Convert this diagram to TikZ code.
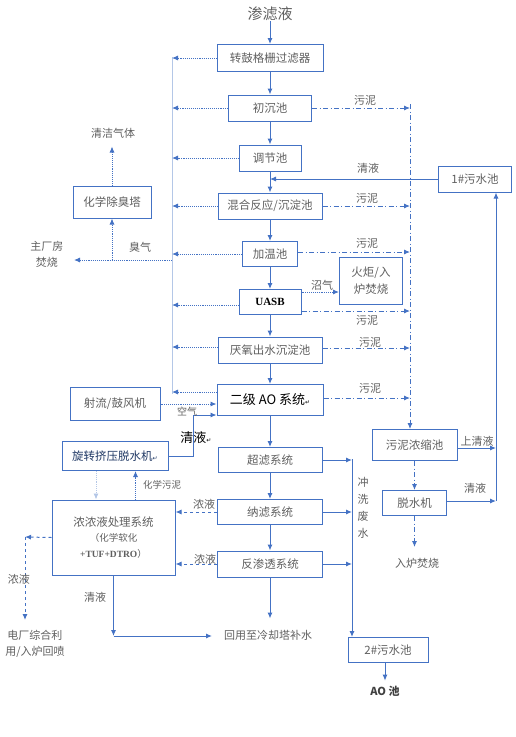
\documentclass[tikz,border=0pt]{standalone}
\usepackage{fontspec}
\setmainfont{Liberation Serif}
\newfontfamily\cjk{Noto Sans CJK SC}
\newfontfamily\symfont{DejaVu Sans}
\usepackage{tikz}
\usetikzlibrary{arrows.meta,positioning}
\usepackage{xcolor}
\definecolor{boxblue}{RGB}{68,114,196}
\definecolor{paleblue}{RGB}{180,199,231}
\definecolor{txtgray}{RGB}{95,95,95}
\definecolor{inkblue}{RGB}{31,56,100}
\newcommand\retmark{{\symfont\fontsize{6}{6}\selectfont ↵}}

\begin{document}
\begin{tikzpicture}[x=1pt,y=-1pt,>={Latex[length=6pt,width=5pt]},
  unit/.style={draw=boxblue,line width=1pt,inner sep=0pt,text=txtgray,
    font=\cjk\fontsize{11.5}{13}\selectfont},
  lbl/.style={inner sep=0pt,text=txtgray,font=\cjk\fontsize{11}{13}\selectfont},
  flow/.style={->,draw=boxblue,line width=1pt},
  gas/.style={->,draw=boxblue,line width=0.9pt,densely dotted},
  sludge/.style={->,draw=boxblue,line width=0.9pt,dash pattern=on 5pt off 2.5pt on 1pt off 2.5pt},
  brine/.style={->,draw=boxblue,line width=1pt,dashed}]
  \useasboundingbox (0,0) rectangle (515,737);

  % main line
  \node (src) [lbl,font=\cjk\fontsize{15}{17}\selectfont] at (270,14) {渗滤液};
  \node (grid) [unit,minimum width=106pt,minimum height=27pt] at (270,58) {转鼓格栅过滤器};
  \node (prim) [unit,minimum width=83pt,minimum height=26pt] at (270,108) {初沉池};
  \node (adj) [unit,minimum width=62pt,minimum height=26pt] at (270,158) {调节池};
  \node (mix) [unit,minimum width=104pt,minimum height=26pt] at (270,206) {混合反应/沉淀池};
  \node (heat) [unit,minimum width=55pt,minimum height=25pt] at (270,254) {加温池};
  \node (uasb) [unit,minimum width=62pt,minimum height=25pt,text=black,
    font=\bfseries\fontsize{11}{12}\selectfont] at (270,302) {UASB};
  \node (anox) [unit,minimum width=104pt,minimum height=26pt] at (270,350) {厌氧出水沉淀池};
  \node (ao) [unit,minimum width=106pt,minimum height=31pt,text=black,
    font=\cjk\fontsize{13}{15}\selectfont] at (270,400) {二级 AO 系统\retmark};
  \node (uf) [unit,minimum width=104pt,minimum height=25pt] at (270,460) {超滤系统};
  \node (nf) [unit,minimum width=105pt,minimum height=25pt] at (270,512) {纳滤系统};
  \node (ro) [unit,minimum width=105pt,minimum height=26pt] at (270,564) {反渗透系统};
  \node (reuse) [lbl] at (268,635) {回用至冷却塔补水};

  \draw[flow] (src) -- (grid);
  \draw[flow] (grid) -- (prim);
  \draw[flow] (prim) -- (adj);
  \draw[flow] (adj) -- (mix);
  \draw[flow] (mix) -- (heat);
  \draw[flow] (heat) -- (uasb);
  \draw[flow] (uasb) -- (anox);
  \draw[flow] (anox) -- (ao);
  \draw[flow] (ao) -- (uf);
  \draw[flow] (uf) -- (nf);
  \draw[flow] (nf) -- (ro);
  \draw[flow] (ro.south) -- ++(0,41);

  % sludge side
  \node (flare) [unit,minimum width=63pt,minimum height=47pt,align=center,
    font=\cjk\fontsize{11.5}{17}\selectfont] at (371,281) {火炬/入\\炉焚烧};
  \node (pool1) [unit,minimum width=73pt,minimum height=26pt] at (475,179) {1\#污水池};
  \node (thick) [unit,minimum width=85pt,minimum height=31pt] at (414.5,445) {污泥浓缩池};
  \node (dewat) [unit,minimum width=64pt,minimum height=25pt] at (414.5,503) {脱水机};
  \node (burn) [lbl] at (417,563) {入炉焚烧};
  \node (pool2) [unit,minimum width=80pt,minimum height=25pt] at (388,650) {2\#污水池};
  \node (aopool) [lbl,inner sep=5pt,text=black!75,font=\bfseries\cjk\fontsize{11}{13}\selectfont] at (385,691) {AO 池};

  \coordinate (stop) at (410,104);
  \draw[sludge,-] (stop) -- (410,420);
  \draw[sludge] (410,420) -- (stop |- thick.north);
  \draw[sludge] (prim.east) -- (prim.east -| stop);
  \draw[sludge] (mix.east) -- (mix.east -| stop);
  \draw[sludge] ([yshift=2pt]heat.east) -- ([yshift=2pt]heat.east -| stop);
  \draw[sludge] ([yshift=-9pt]uasb.east) -- ([yshift=-9pt]uasb.east -| stop);
  \draw[sludge] ([yshift=2pt]anox.east) -- ([yshift=2pt]anox.east -| stop);
  \draw[sludge] ([yshift=2pt]ao.east) -- ([yshift=2pt]ao.east -| stop);
  \draw[gas] ([yshift=10pt]uasb.east) -- ([yshift=10pt]uasb.east -| flare.west);
  \draw[sludge] (thick.south) -- (dewat.north);
  \draw[sludge] (dewat.south) -- ++(0,31);

  \node at (365,100) [lbl] {污泥};
  \node at (367,198) [lbl] {污泥};
  \node at (367,243) [lbl] {污泥};
  \node at (322,285) [lbl] {沼气};
  \node at (367,320) [lbl] {污泥};
  \node at (370,342) [lbl] {污泥};
  \node at (370,388) [lbl] {污泥};

  % returns to pool 1
  \coordinate (rbot) at (496,501);
  \draw[flow,line width=0.9pt] (pool1.west) -- (pool1.west -| adj.south);
  \draw[flow] (rbot) -- (rbot |- pool1.south);
  \draw[flow] ([yshift=-3pt]thick.east) -- ([yshift=-3pt]thick.east -| rbot);
  \draw[flow] ([yshift=2pt]dewat.east) -- ([yshift=2pt]dewat.east -| rbot);
  \node at (368,168) [lbl] {清液};
  \node at (477,441) [lbl] {上清液};
  \node at (475,488) [lbl] {清液};

  % wash water
  \coordinate (wtop) at (352,459);
  \draw[flow] (uf.east) -- (uf.east -| wtop);
  \draw[flow] (nf.east) -- (nf.east -| wtop);
  \draw[flow] (ro.east) -- (ro.east -| wtop);
  \draw[flow] (wtop) -- (wtop |- pool2.north);
  \draw[flow] (pool2.south -| aopool.north) -- (aopool.north);
  \node at (363,508) [lbl,align=center,font=\cjk\fontsize{11}{17}\selectfont] {冲\\洗\\废\\水};

  % gas collection
  \coordinate (ctop) at (172,57);
  \coordinate (odor) at (172,260);
  \coordinate (odorend) at (74,260);
  \draw[paleblue,line width=1pt] (ctop) -- (172,394);
  \draw[gas] (grid.west) -- (grid.west -| ctop);
  \draw[gas] (prim.west) -- (prim.west -| ctop);
  \draw[gas] (adj.west) -- (adj.west -| ctop);
  \draw[gas] (mix.west) -- (mix.west -| ctop);
  \draw[gas] (heat.west) -- (heat.west -| ctop);
  \draw[gas] ([yshift=-3pt]uasb.west) -- ([yshift=-3pt]uasb.west -| ctop);
  \draw[gas] ([yshift=3pt]anox.west) -- ([yshift=3pt]anox.west -| ctop);
  \draw[gas] ([yshift=8pt]ao.west) -- ([yshift=8pt]ao.west -| ctop);

  \node (deod) [unit,minimum width=78pt,minimum height=32pt] at (112,202) {化学除臭塔};
  \node (clean) [lbl] at (113,133) {清洁气体};
  \node (mainb) [lbl,align=center,font=\cjk\fontsize{11}{16}\selectfont] at (47,254) {主厂房\\焚烧};
  \draw[gas] (odor) -- (odorend);
  \draw[gas] (deod.south |- odor) -- (deod.south);
  \draw[gas] (deod.north) -- ++(0,-39);
  \node at (140,247) [lbl] {臭气};

  % air and press
  \node (fan) [unit,minimum width=90pt,minimum height=33pt] at (115,404) {射流/鼓风机};
  \node (press) [unit,minimum width=106pt,minimum height=29pt,text=inkblue,
    font=\cjk\fontsize{11.5}{13}\selectfont] at (115,456) {旋转挤压脱水机\retmark};
  \draw[gas] (fan.east) -- (fan.east -| ao.west);
  \draw[flow,line width=0.9pt] (press.east) -- ++(25,0) |- ([yshift=-15pt]ao.west);
  \node at (187,412) [lbl,font=\cjk\fontsize{10}{11}\selectfont] {空气};
  \node at (196,438) [lbl,text=black,font=\cjk\fontsize{13}{15}\selectfont] {清液\retmark};

  % concentrate
  \node (conc) [unit,minimum width=123pt,minimum height=75pt] at (113.5,537.5) {};
  \node at (113.5,522) [lbl,font=\cjk\fontsize{11.5}{13}\selectfont] {浓浓液处理系统};
  \node at (113.5,538) [lbl,font=\cjk\fontsize{9.5}{11}\selectfont] {（化学软化};
  \node at (113.5,554) [lbl,font=\cjk\fontsize{9.5}{11}\selectfont] {{\rmfamily\bfseries +TUF+DTRO}）};
  \node (power) [lbl,align=center,font=\cjk\fontsize{11}{16}\selectfont] at (35,644) {电厂综合利\\用/入炉回喷};

  \draw[gas] ([xshift=22pt]conc.north) -- ([xshift=22pt]conc.north |- press.south);
  \draw[gas,draw=paleblue] ([xshift=-19pt]press.south) -- ([xshift=-19pt]press.south |- conc.north);
  \node at (162,485) [lbl,font=\cjk\fontsize{9.5}{11}\selectfont] {化学污泥};
  \draw[brine] (nf.west) -- (nf.west -| conc.east);
  \draw[brine] (ro.west) -- (ro.west -| conc.east);
  \node at (204,504) [lbl] {浓液};
  \node at (205,559) [lbl] {浓液};

  \coordinate (cl) at (25,537);
  \coordinate (cd) at (25,620);
  \draw[brine] (conc.west) -- (cl);
  \draw[brine] (cl) -- (cd);
  \node at (19,579) [lbl] {浓液};

  \coordinate (ret) at (113.5,636);
  \draw[flow] (conc.south) -- (ret);
  \draw[flow] (ret) -- (212,636);
  \node at (95,597) [lbl] {清液};
\end{tikzpicture}
\end{document}
